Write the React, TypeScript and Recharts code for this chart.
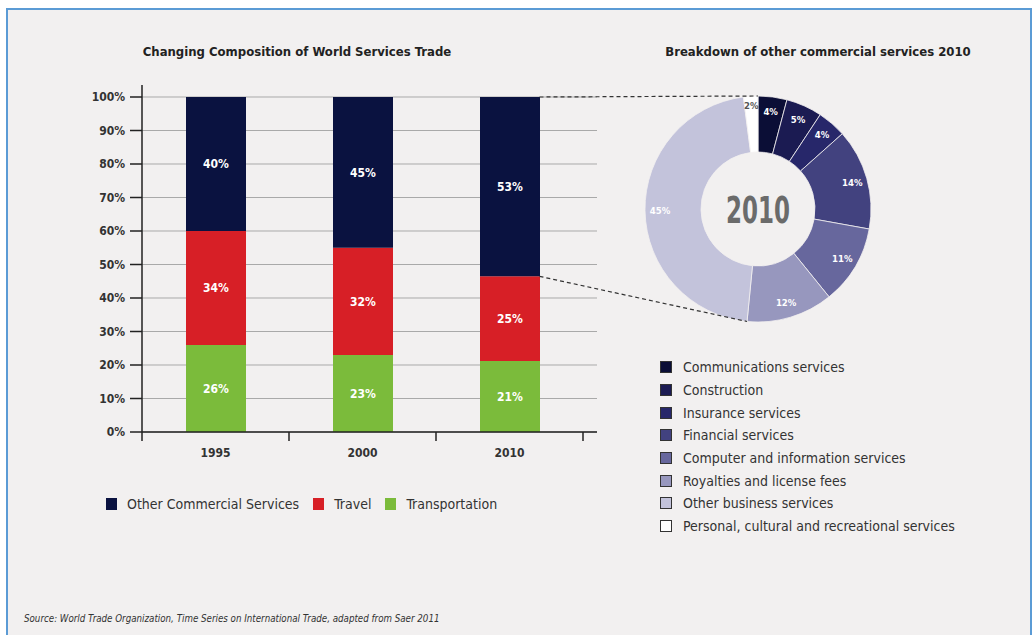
import React from 'react';
import { BarChart, Bar, XAxis, YAxis, CartesianGrid, LabelList, PieChart, Pie, Cell } from 'recharts';

// left chart: share of world services trade (%)
const years = ['1995', '2000', '2010'];
const transportation = [26, 23, 21];
const travel = [34, 32, 25];
const otherCommercial = [40, 45, 53];
const yTicks = [0, 0.1, 0.2, 0.3, 0.4, 0.5, 0.6, 0.7, 0.8, 0.9, 1];

// right chart: breakdown of other commercial services 2010 (%)
const serviceNames = [
  'Communications services',
  'Construction',
  'Insurance services',
  'Financial services',
  'Computer and information services',
  'Royalties and license fees',
  'Other business services',
  'Personal, cultural and recreational services',
];
const serviceShares = [4, 5, 4, 14, 11, 12, 45, 2];
const serviceColors = ['#0b0e36', '#1b1b52', '#27276a', '#42427f', '#67679d', '#9797be', '#c3c3db', '#ffffff'];

const FONT = "'DejaVu Sans Condensed', 'Liberation Sans Narrow', Roboto, sans-serif";
const BG = '#f2f0f0';
const NAVY = '#0a1240';
const RED = '#d71f26';
const GREEN = '#7bbb3b';

// layout of the bar plot
const PLOT_LEFT = 142;
const PLOT_TOP = 85;
const Y_PAD_TOP = 12;
const PLOT_BOTTOM = 432;
const PLOT_RIGHT = 597;
const X_PAD_RIGHT = 14;
const BAND = (PLOT_RIGHT - X_PAD_RIGHT - PLOT_LEFT) / years.length;
const BAR_W = 60;
const BAR_CHART_W = 620;
const BAR_CHART_H = 470;
const PLOT_H = PLOT_BOTTOM - PLOT_TOP - Y_PAD_TOP;

// layout of the donut
const PIE_CX = 758;
const PIE_CY = 209;
const OUTER = 113;
const INNER = 57;

const barData = years.map((year, i) => ({
  year,
  transportation: transportation[i],
  travel: travel[i],
  other: otherCommercial[i],
}));

const pieData = serviceNames.map((name, i) => ({ name, value: serviceShares[i] }));

const barSeries = [
  { key: 'other', name: 'Other Commercial Services', color: NAVY },
  { key: 'travel', name: 'Travel', color: RED },
  { key: 'transportation', name: 'Transportation', color: GREEN },
];

const YearTick = (props: any) => {
  const { x, y, payload, index } = props;
  const half = BAND / 2;
  const top = y - 9;
  return (
    <g>
      <line x1={x - half} x2={x - half} y1={top} y2={y} stroke="#222" strokeWidth={1.5} />
      {index === years.length - 1 && (
        <line x1={x + half} x2={x + half} y1={top} y2={y} stroke="#222" strokeWidth={1.5} />
      )}
      <text x={x} y={y + 16} textAnchor="middle" fontFamily={FONT} fontSize={12} fontWeight="bold" fill="#333">
        {payload.value}
      </text>
    </g>
  );
};

const RADIAN = Math.PI / 180;
const renderPieLabel = (props: any) => {
  const { cx, cy, midAngle, index, value } = props;
  const r = index === serviceShares.length - 1 ? 104 : 98;
  const x = cx + r * Math.cos(-midAngle * RADIAN);
  const y = cy + r * Math.sin(-midAngle * RADIAN);
  return (
    <text
      x={x}
      y={y}
      textAnchor="middle"
      dominantBaseline="central"
      fontFamily={FONT}
      fontSize={9.5}
      fontWeight="bold"
      fill={index === serviceShares.length - 1 ? '#555' : '#fff'}
    >
      {`${value}%`}
    </text>
  );
};

const App: React.FC = () => {
  const last = years.length - 1;
  const lastTotal = transportation[last] + travel[last] + otherCommercial[last];
  const barRight = PLOT_LEFT + BAND * (last + 0.5) + BAR_W / 2;
  const topY = PLOT_BOTTOM - PLOT_H;
  const splitY = PLOT_BOTTOM - PLOT_H * ((transportation[last] + travel[last]) / lastTotal);
  const pieTotal = serviceShares.reduce((a, b) => a + b, 0);
  const beforeOther = serviceShares.slice(0, 6).reduce((a, b) => a + b, 0);
  const ang = (360 * beforeOther) / pieTotal * RADIAN;
  const endX = PIE_CX + OUTER * Math.sin(ang);
  const endY = PIE_CY - OUTER * Math.cos(ang);

  return (
    <div style={{ position: 'absolute', left: 0, top: 0, width: 1032, height: 635, background: '#fff', overflow: 'hidden', fontFamily: FONT }}>
      <div
        style={{
          position: 'absolute',
          left: 6,
          top: 8,
          width: 1022,
          height: 640,
          background: BG,
          border: '2px solid #5b9bd5',
        }}
      />

      <div style={{ position: 'absolute', left: 142, top: 44, width: 310, textAlign: 'center', fontSize: 13, fontWeight: 'bold', color: '#222' }}>
        Changing Composition of World Services Trade
      </div>
      <div style={{ position: 'absolute', left: 650, top: 44, width: 336, textAlign: 'center', fontSize: 13, fontWeight: 'bold', color: '#222' }}>
        Breakdown of other commercial services 2010
      </div>

      <div style={{ position: 'absolute', left: 0, top: 0 }}>
        <BarChart
          width={BAR_CHART_W}
          height={BAR_CHART_H}
          data={barData}
          stackOffset="expand"
          barSize={BAR_W}
          margin={{ top: PLOT_TOP, left: PLOT_LEFT - 60, right: BAR_CHART_W - PLOT_RIGHT, bottom: BAR_CHART_H - PLOT_BOTTOM - 30 }}
        >
          <CartesianGrid
            vertical={false}
            stroke="#a9a9a9"
            strokeWidth={1}
            horizontalCoordinatesGenerator={() => yTicks.map((t) => PLOT_BOTTOM - PLOT_H * t)}
          />
          <XAxis
            dataKey="year"
            height={30}
            padding={{ left: 0, right: X_PAD_RIGHT }}
            axisLine={{ stroke: '#222', strokeWidth: 1.5 }}
            tickLine={false}
            tickSize={9}
            tickMargin={0}
            tick={<YearTick />}
            interval={0}
          />
          <YAxis
            width={60}
            domain={[0, 1]}
            ticks={yTicks}
            padding={{ top: Y_PAD_TOP, bottom: 0 }}
            axisLine={{ stroke: '#222', strokeWidth: 1.5 }}
            tickLine={{ stroke: '#222', strokeWidth: 1.5 }}
            tickSize={12}
            tickMargin={5}
            tickFormatter={(v: number) => `${Math.round(v * 100)}%`}
            tick={{ fontFamily: FONT, fontSize: 12, fontWeight: 'bold', fill: '#333' }}
          />
          <Bar dataKey="transportation" stackId="a" fill={GREEN} isAnimationActive={false}>
            <LabelList dataKey="transportation" position="center" fill="#fff" fontFamily={FONT} fontSize={12} fontWeight="bold" formatter={(v: any) => `${v}%`} />
          </Bar>
          <Bar dataKey="travel" stackId="a" fill={RED} isAnimationActive={false}>
            <LabelList dataKey="travel" position="center" fill="#fff" fontFamily={FONT} fontSize={12} fontWeight="bold" formatter={(v: any) => `${v}%`} />
          </Bar>
          <Bar dataKey="other" stackId="a" fill={NAVY} isAnimationActive={false}>
            <LabelList dataKey="other" position="center" fill="#fff" fontFamily={FONT} fontSize={12} fontWeight="bold" formatter={(v: any) => `${v}%`} />
          </Bar>
        </BarChart>
      </div>

      <div style={{ position: 'absolute', left: PIE_CX - 130, top: PIE_CY - 130 }}>
        <PieChart width={260} height={260} margin={{ top: 0, left: 0, right: 0, bottom: 0 }}>
          <Pie
            data={pieData}
            dataKey="value"
            nameKey="name"
            cx={130}
            cy={130}
            innerRadius={INNER}
            outerRadius={OUTER}
            startAngle={90}
            endAngle={-270}
            stroke={BG}
            strokeWidth={0.8}
            label={renderPieLabel}
            labelLine={false}
            isAnimationActive={false}
          >
            {pieData.map((entry, index) => (
              <Cell key={`cell-${index}`} fill={serviceColors[index]} />
            ))}
          </Pie>
        </PieChart>
      </div>

      <svg width={1032} height={635} style={{ position: 'absolute', left: 0, top: 0, pointerEvents: 'none' }}>
        <line x1={barRight} y1={topY} x2={PIE_CX} y2={PIE_CY - OUTER} stroke="#333" strokeWidth={1.2} strokeDasharray="4 3" />
        <line x1={barRight} y1={splitY} x2={endX} y2={endY} stroke="#333" strokeWidth={1.2} strokeDasharray="4 3" />
        <text
          x={PIE_CX}
          y={PIE_CY + 1}
          textAnchor="middle"
          dominantBaseline="central"
          fontFamily={FONT}
          fontSize={37}
          fontWeight="bold"
          fill="#6b6b6b"
          textLength={64}
          lengthAdjust="spacingAndGlyphs"
        >
          2010
        </text>
      </svg>

      <div style={{ position: 'absolute', left: 106, top: 496, display: 'flex', alignItems: 'center', fontSize: 14, color: '#333' }}>
        {barSeries.map((s) => (
          <div key={s.key} style={{ display: 'flex', alignItems: 'center', marginRight: 14 }}>
            <span style={{ display: 'inline-block', width: 11, height: 12, background: s.color, marginRight: 10 }} />
            <span>{s.name}</span>
          </div>
        ))}
      </div>

      <div style={{ position: 'absolute', left: 660, top: 356, fontSize: 14, color: '#333' }}>
        {serviceNames.map((name, i) => (
          <div key={name} style={{ display: 'flex', alignItems: 'center', height: 22.7 }}>
            <span
              style={{
                display: 'inline-block',
                width: 10,
                height: 10,
                background: serviceColors[i],
                border: '1px solid #333',
                marginRight: 11,
              }}
            />
            <span>{name}</span>
          </div>
        ))}
      </div>

      <div style={{ position: 'absolute', left: 24, top: 613, fontSize: 9.7, fontStyle: 'italic', color: '#333' }}>
        Source: World Trade Organization, Time Series on International Trade, adapted from Saer 2011
      </div>
    </div>
  );
};

export default App;
